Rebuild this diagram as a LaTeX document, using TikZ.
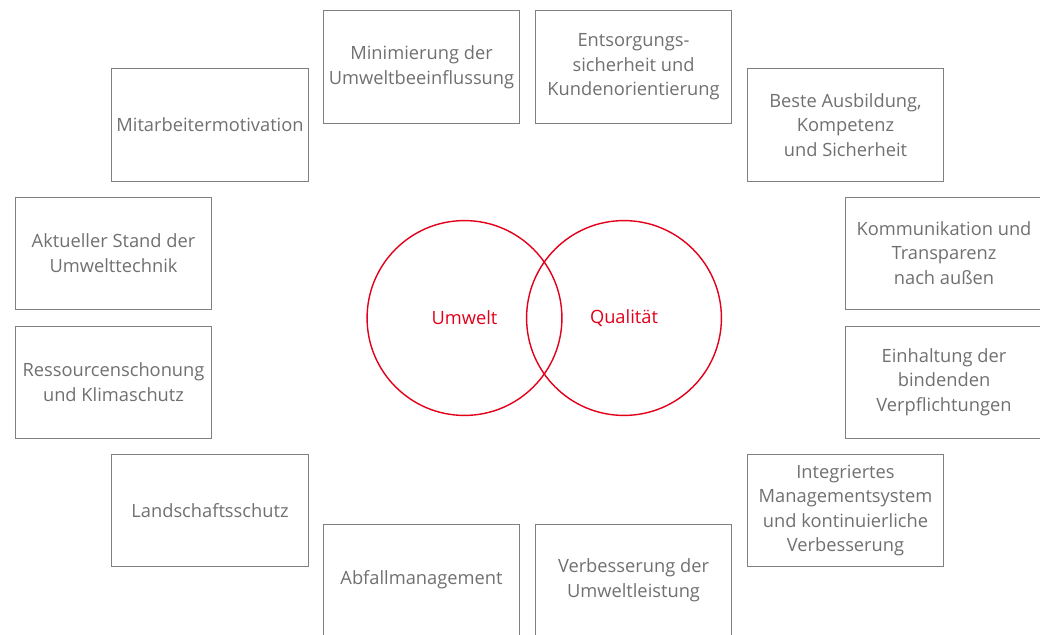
\documentclass[tikz,border=0pt]{standalone}
\usepackage{fontspec}
\setmainfont{Open Sans}
\definecolor{boxgray}{RGB}{128,128,128}
\definecolor{textgray}{RGB}{112,112,112}
\definecolor{venred}{RGB}{226,0,26}
\tikzset{
  aspect/.style={draw=boxgray, line width=0.7pt, text=textgray, align=center,
    minimum width=4.9cm, minimum height=2.8cm, inner sep=2pt,
    font=\fontsize{13}{17.5}\selectfont},
  ring/.style={circle, draw=venred, line width=1pt, text=venred,
    minimum size=4.87cm, font=\fontsize{13}{17.5}\selectfont}
}
\begin{document}
\begin{tikzpicture}[x=0.025cm,y=-0.025cm]
\useasboundingbox (0,0) rectangle (1040,634);
\clip (0,0) rectangle (1040,634);

% the two circles
\node[ring] (umwelt) at (464.5,318){Umwelt};
\node[ring] (qualitaet) at (624,318){Qualität};

% left side
\node[aspect] (minimierung) at (421.5,67){Minimierung der\\Umweltbeeinflussung};
\node[aspect] (mitarbeiter) at (210,125){Mitarbeitermotivation};
\node[aspect] (stand) at (113.5,253){Aktueller Stand der\\Umwelttechnik};
\node[aspect] (ressourcen) at (113.5,382){Ressourcenschonung\\und Klimaschutz};
\node[aspect] (landschaft) at (210,510.5){Landschaftsschutz};
\node[aspect] (abfall) at (421.5,580){Abfallmanagement};

% right side
\node[aspect] (entsorgung) at (633.5,67){Entsorgungs-\\sicherheit und\\Kundenorientierung};
\node[aspect] (ausbildung) at (845.5,125){Beste Ausbildung,\\Kompetenz\\und Sicherheit};
\node[aspect] (kommunikation) at (944,253){Kommunikation und\\Transparenz\\nach außen};
\node[aspect] (einhaltung) at (944,382){Einhaltung der\\bindenden\\Verpflichtungen};
\node[aspect] (ims) at (845.5,510.5){Integriertes\\Managementsystem\\und kontinuierliche\\Verbesserung};
\node[aspect] (leistung) at (633.5,580){Verbesserung der\\Umweltleistung};
\end{tikzpicture}
\end{document}
